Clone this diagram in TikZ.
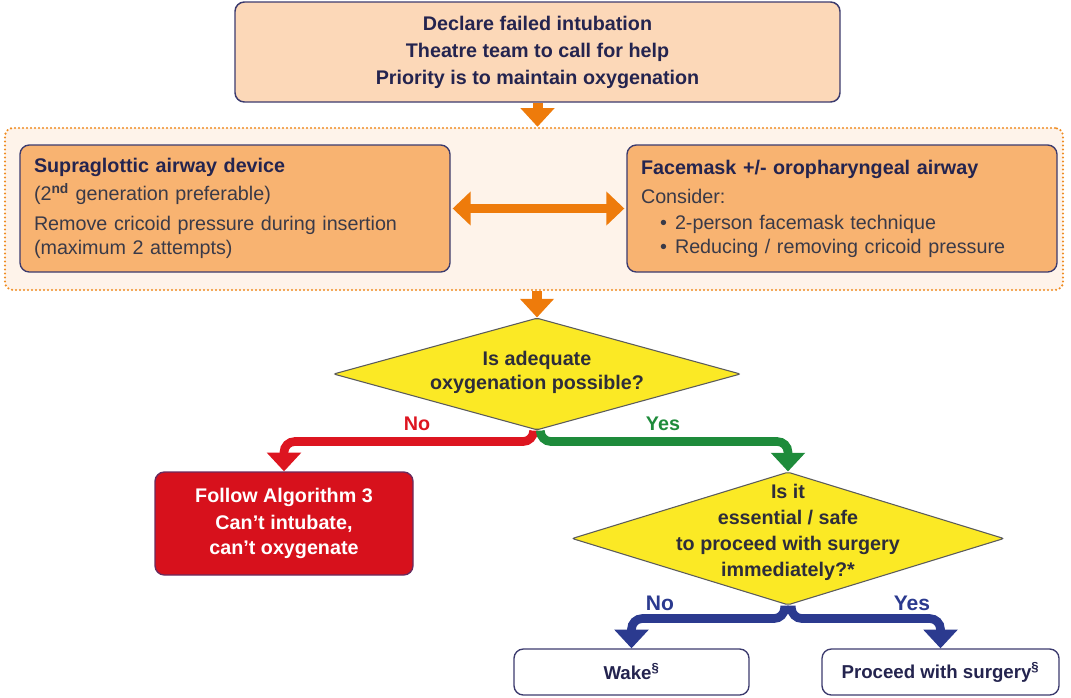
\documentclass[tikz,border=0pt]{standalone}
\usepackage{fontspec}
\setmainfont{Liberation Sans}
\usetikzlibrary{shapes.geometric,arrows.meta}
\definecolor{navyline}{HTML}{3C3B6E}
\definecolor{titletext}{HTML}{24244F}
\definecolor{bodytext}{HTML}{3A3A48}
\definecolor{diamtext}{HTML}{2D2D3A}
\definecolor{topfill}{HTML}{FCD8B8}
\definecolor{grpfill}{HTML}{FEF3EA}
\definecolor{boxfill}{HTML}{F8B371}
\definecolor{orangearr}{HTML}{EE7B0B}
\definecolor{dotorange}{HTML}{EF8C22}
\definecolor{yellowfill}{HTML}{FBE925}
\definecolor{diamline}{HTML}{5B5B5B}
\definecolor{redfill}{HTML}{D7111C}
\definecolor{redborder}{HTML}{6A2B5E}
\definecolor{redarr}{HTML}{DD1520}
\definecolor{greenarr}{HTML}{1E8B3B}
\definecolor{navyarr}{HTML}{2B3A8F}
\begin{document}
\begin{tikzpicture}[x=0.75pt,y=-0.75pt,
  topbox/.style={draw=navyline, line width=1.1pt, rounded corners=7pt, fill=topfill,
    minimum width=453.75pt, minimum height=75pt, align=center, text=titletext,
    font=\fontsize{14.8}{20.25}\selectfont\bfseries},
  groupbox/.style={draw=dotorange, fill=grpfill, line width=1.8pt, dash pattern=on 0pt off 3pt,
    line cap=round, rounded corners=6pt, minimum width=793.5pt, minimum height=121.5pt, inner sep=0pt},
  optbox/.style={draw=navyline, line width=1pt, rounded corners=7pt, fill=boxfill,
    minimum width=322.5pt, minimum height=95.25pt, text width=301.5pt, align=left, inner sep=0pt,
    text=bodytext, font=\fontsize{14.8}{18}\selectfont},
  decision/.style={diamond, draw=diamline, line width=0.8pt, fill=yellowfill, inner sep=0pt,
    rounded corners=1.5pt},
  dtext/.style={align=center, text=diamtext, inner sep=0pt},
  failbox/.style={draw=redborder, line width=1pt, rounded corners=7pt, fill=redfill,
    minimum width=193.5pt, minimum height=77.25pt, align=center, text=white,
    font=\fontsize{14.8}{19}\selectfont\bfseries},
  endbox/.style={draw=navyline, line width=1pt, rounded corners=7pt, fill=white,
    minimum width=176.25pt, minimum height=34.5pt, text=titletext,
    font=\fontsize{14}{17}\selectfont\bfseries},
  fatarrow/.style={line width=7.5pt, draw=orangearr, -{Triangle[length=14pt,width=24.75pt]}},
  dblarrow/.style={line width=7pt, draw=orangearr,
    {Triangle[length=13.5pt,width=24.75pt]}-{Triangle[length=13.5pt,width=24.75pt]},
    shorten <=1.5pt, shorten >=1.5pt},
  branch/.style={line width=6.5pt, rounded corners=8pt, -{Triangle[length=14pt,width=25pt]}},
  smalllbl/.style={font=\fontsize{14.8}{17}\selectfont\bfseries, inner sep=0pt},
  biglbl/.style={font=\fontsize{15.8}{19}\selectfont\bfseries, text=navyarr, inner sep=0pt}
]
\useasboundingbox (0,0) rectangle (1071,697);

% group
\node[groupbox] (grp) at (534,209) {};

% top box
\node[topbox] (top) at (537.5,52)
  {Declare failed intubation\\Theatre team to call for help\\Priority is to maintain oxygenation};

% option boxes
\node[optbox] (sga) at (235,208.5)
  {{\bfseries\color{titletext}Supraglottic airway device}\\[3pt]
   (2\textsuperscript{\bfseries nd} generation preferable)\\[4.5pt]
   Remove cricoid pressure during insertion\\
   (maximum 2 attempts)};
\node[optbox] (fm) at (842,208.5)
  {{\bfseries\color{titletext}Facemask +/- oropharyngeal airway}\\[3.75pt]
   Consider:\\[1.5pt]
   \hspace*{14.25pt}\makebox[11.25pt][l]{\textbullet}2-person facemask technique\\
   \hspace*{14.25pt}\makebox[11.25pt][l]{\textbullet}Reducing / removing cricoid pressure};

% decision 1
\node[decision, minimum width=305.25pt, minimum height=84pt] (d1) at (537,374) {};
\node[dtext, font=\fontsize{14.8}{18}\selectfont\bfseries] (d1t) at (537,372)
  {Is adequate\\oxygenation possible?};

% fail box
\node[failbox] (fail) at (284,523.5)
  {Follow Algorithm 3\\[1.5pt]Can’t intubate,\\can’t oxygenate};

% decision 2
\node[decision, minimum width=324pt, minimum height=99.75pt] (d2) at (788,538.5) {};
\node[dtext, font=\fontsize{14.8}{19.5}\selectfont\bfseries] (d2t) at (788,532)
  {Is it\\essential / safe\\to proceed with surgery\\immediately?*};

% end boxes
\node[endbox] (wake) at (631.5,672) {Wake\textsuperscript{§}};
\node[endbox, minimum width=177.75pt] (proc) at (940.5,672) {Proceed with surgery\textsuperscript{§}};

% arrows
\draw[fatarrow] (top.south) -- (top.south |- grp.north);
\draw[fatarrow] (d1.north |- grp.south) -- (d1.north);
\draw[dblarrow] (sga.east) -- (fm.west);

\draw[branch, draw=redarr] ([xshift=-2.5pt]d1.south) -- ++(0,11) -| (fail.north);
\draw[branch, draw=greenarr] ([xshift=2.5pt]d1.south) -- ++(0,11) -| (d2.north);
\draw[branch, draw=navyarr] ([xshift=-2.5pt]d2.south) -- ++(0,13) -| (wake.north);
\draw[branch, draw=navyarr] ([xshift=2.5pt]d2.south) -- ++(0,13) -| (proc.north);

% labels
\node[smalllbl, text=redarr] (nolbl) at (417,424) {No};
\node[smalllbl, text=greenarr] (yeslbl) at (663,424) {Yes};
\node[biglbl] (no2) at (660,603) {No};
\node[biglbl] (yes2) at (912,603) {Yes};
\end{tikzpicture}
\end{document}
